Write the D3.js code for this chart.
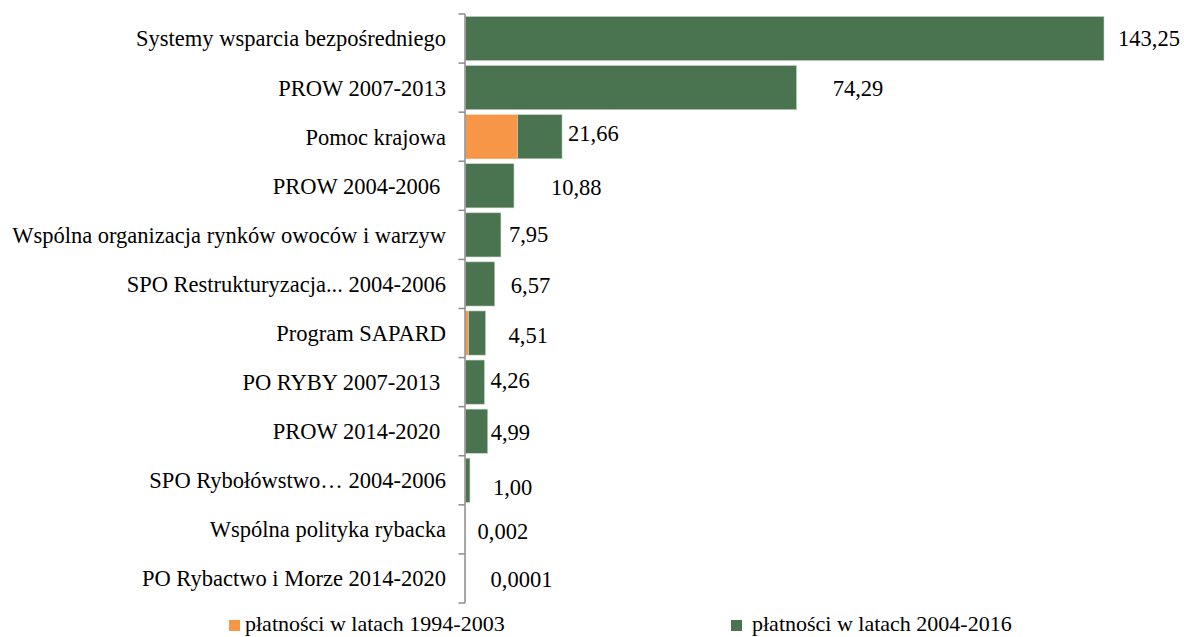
<!DOCTYPE html>
<html>
<head>
<meta charset="utf-8">
<script src="https://cdn.jsdelivr.net/npm/d3@7"></script>
<style>
  body { margin: 0; background: #fff; }
  text { font-family: "Liberation Serif", serif; fill: #000; white-space: pre; }
</style>
</head>
<body>
<script>
var categories = [
  "Systemy wsparcia bezpośredniego",
  "PROW 2007-2013",
  "Pomoc krajowa",
  "PROW 2004-2006 ",
  "Wspólna organizacja rynków owoców i warzyw",
  "SPO Restrukturyzacja... 2004-2006",
  "Program SAPARD",
  "PO RYBY 2007-2013 ",
  "PROW 2014-2020 ",
  "SPO Rybołówstwo… 2004-2006",
  "Wspólna polityka rybacka",
  "PO Rybactwo i Morze 2014-2020"
]
var seriesNames = ["płatności w latach 1994-2003", "płatności w latach 2004-2016"]
var early = [0, 0, 11.7, 0, 0, 0, 0.7, 0, 0, 0, 0, 0]
var late = [143.25, 74.29, 9.96, 10.88, 7.95, 6.57, 3.81, 4.26, 4.99, 1.00, 0.002, 0.0001]
var totals = ["143,25", "74,29", "21,66", "10,88", "7,95", "6,57", "4,51", "4,26", "4,99", "1,00", "0,002", "0,0001"]
// label nudges, as placed in the original
var labelDx = [14, 36, 6, 37, 8, 16, 23, 6, 3, 23, 12, 25]
var labelDy = [0, 0, -4, 1, -1, 1, 2, -2, 1, 7, 2, 1]

var colors = ["#f79646", "#4a7450"]

var width = 1184, height = 637

var svg = d3.select("body").append("svg")
    .attr("width", width)
    .attr("height", height)

var x = d3.scaleLinear().domain([0, 143.25]).range([465.5, 1104])
var y = d3.scaleBand().domain(categories).range([14, 603])
    .paddingInner(0.1).paddingOuter(0.05)

var rows = categories.map(function(c, i){
  return {cat: c, a: early[i], b: late[i], label: totals[i], dx: labelDx[i], dy: labelDy[i]}
})

// orange part
svg.selectAll("rect.early")
    .data(rows)
    .enter()
    .append("rect")
    .attr("class", "early")
    .attr("x", x(0))
    .attr("y", function(d){ return y(d.cat) })
    .attr("width", function(d){ return x(d.a) - x(0) })
    .attr("height", y.bandwidth())
    .style("fill", colors[0])

// green part
svg.selectAll("rect.late")
    .data(rows)
    .enter()
    .append("rect")
    .attr("class", "late")
    .attr("x", function(d){ return x(d.a) })
    .attr("y", function(d){ return y(d.cat) })
    .attr("width", function(d){ return x(d.a + d.b) - x(d.a) })
    .attr("height", y.bandwidth())
    .style("fill", colors[1])
    .style("stroke", "#c8d4c8")
    .style("stroke-width", 0.6)

// axis line with ticks between categories
var step = y.step()
var bounds = categories.map(function(c){ return y(c) - y.paddingInner() * step / 2 })
bounds.push(y(categories[categories.length - 1]) + y.bandwidth() + y.paddingInner() * step / 2)

svg.append("line")
    .attr("x1", x(0) - 0.5).attr("x2", x(0) - 0.5)
    .attr("y1", bounds[0]).attr("y2", bounds[bounds.length - 1])
    .style("stroke", "#8c8c8c").style("stroke-width", 1.5)

svg.selectAll("line.tick")
    .data(bounds)
    .enter()
    .append("line")
    .attr("class", "tick")
    .attr("x1", x(0) - 7).attr("x2", x(0) - 0.5)
    .attr("y1", function(d){ return d }).attr("y2", function(d){ return d })
    .style("stroke", "#8c8c8c").style("stroke-width", 1.5)

// category names
svg.selectAll("text.cat")
    .data(rows)
    .enter()
    .append("text")
    .attr("class", "cat")
    .attr("x", 446)
    .attr("y", function(d){ return y(d.cat) + y.bandwidth() / 2 })
    .attr("dy", "0.35em")
    .attr("text-anchor", "end")
    .style("font-size", "22.5px")
    .text(function(d){ return d.cat })

// value labels
svg.selectAll("text.val")
    .data(rows)
    .enter()
    .append("text")
    .attr("class", "val")
    .attr("x", function(d){ return x(d.a + d.b) + d.dx })
    .attr("y", function(d){ return y(d.cat) + y.bandwidth() / 2 + d.dy })
    .attr("dy", "0.35em")
    .style("font-size", "22.5px")
    .text(function(d){ return d.label })

// legend
var legendX = [229, 731]
var legend = svg.selectAll("g.legend")
    .data(seriesNames)
    .enter()
    .append("g")
    .attr("class", "legend")
    .attr("transform", function(d, i){ return "translate(" + legendX[i] + ",620)" })

legend.append("rect")
    .attr("width", 11).attr("height", 11)
    .style("fill", function(d, i){ return colors[i] })

legend.append("text")
    .attr("x", function(d, i){ return i == 0 ? 16 : 21 })
    .attr("y", 11)
    .style("font-size", "22px")
    .text(function(d){ return d })
</script>
</body>
</html>
